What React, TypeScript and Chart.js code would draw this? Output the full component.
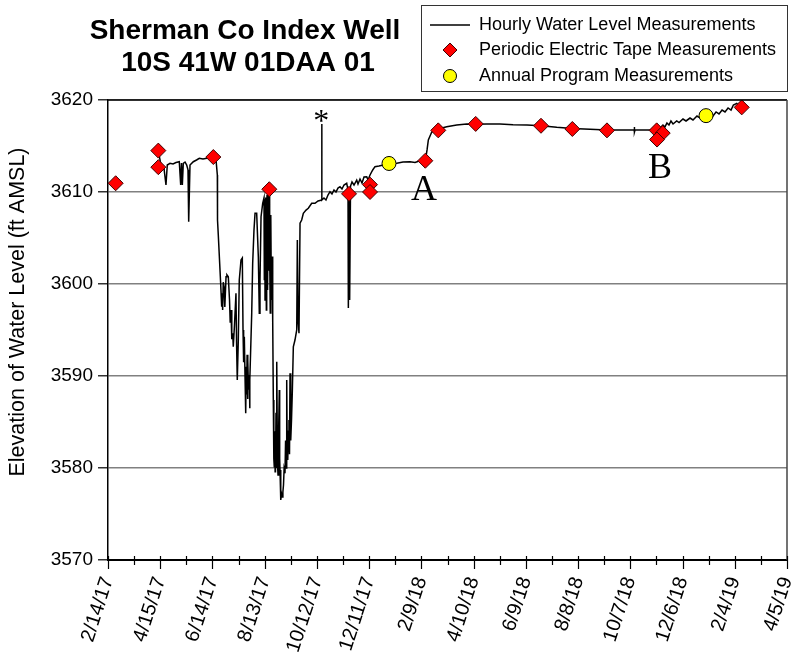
import React, { useEffect, useRef } from 'react';
import { Chart, registerables } from 'chart.js';

Chart.register(...registerables);

// ---------- data ----------
// x values are days since 2/14/17
const xTickLabels = ['2/14/17', '4/15/17', '6/14/17', '8/13/17', '10/12/17', '12/11/17', '2/9/18', '4/10/18', '6/9/18', '8/8/18', '10/7/18', '12/6/18', '2/4/19', '4/5/19'];
const X_MIN = 0;
const X_MAX = 780;
const MINOR_STEP = 30;
const MAJOR_STEP = 60;
const Y_MIN = 3570;
const Y_MAX = 3620;
const Y_STEP = 10;

const titleLines = ['Sherman Co Index Well', '10S 41W 01DAA 01'];
const yAxisTitle = 'Elevation of Water Level (ft AMSL)';
const legendLabels = ['Hourly Water Level Measurements', 'Periodic Electric Tape Measurements', 'Annual Program Measurements'];

// hourly transducer record, [day, elevation]
const spring2017: [number, number][] = [
  [57.8, 3614.46], [60.5, 3613.12], [64.3, 3612.58], [66.6, 3610.76], [68.1, 3612.93], [71.2, 3613.12],
  [74.7, 3613.04], [78.1, 3613.2], [81.9, 3613.29], [83.5, 3610.76], [84.4, 3613.15], [85.4, 3610.76],
  [86.5, 3613.12], [88.5, 3613.26], [90.4, 3612.93], [91.9, 3612.4], [92.7, 3606.77], [94.2, 3612.93],
  [98.0, 3613.29], [101.7, 3613.48], [104.9, 3613.66], [109.1, 3613.59], [113.4, 3613.66], [117.2, 3613.84],
  [121.0, 3613.84], [124.1, 3613.48],
];
const drawdown2017: [number, number][] = [
  [125.6, 3611.85], [125.8, 3606.96], [126.7, 3605.33], [128.1, 3602.61], [129.5, 3599.89], [130.6, 3597.53],
  [131.2, 3599.0], [131.7, 3597.17], [132.4, 3600.2], [133.3, 3599.71], [134.2, 3597.5], [135.6, 3600.79],
  [136.6, 3601.0], [138.2, 3600.79], [139.6, 3598.26], [140.4, 3595.8], [141.3, 3597.17], [142.2, 3594.0],
  [143.3, 3594.64], [143.9, 3593.18], [145.3, 3595.54], [147.0, 3598.99], [147.7, 3593.5], [148.5, 3589.56],
  [149.7, 3593.91], [150.8, 3600.43], [152.8, 3602.61], [154.3, 3602.83], [155.1, 3594.99], [155.8, 3591.5],
  [156.6, 3594.27], [157.4, 3590.0], [158.2, 3585.94], [158.8, 3591.0], [159.3, 3588.0], [159.8, 3592.3],
  [160.3, 3587.5], [160.8, 3591.7], [161.4, 3588.5], [162.3, 3590.11], [162.7, 3586.5], [163.1, 3589.56],
  [165.1, 3596.81], [166.2, 3602.25], [167.7, 3605.87], [168.9, 3607.68], [170.8, 3607.68], [172.7, 3602.97],
  [173.8, 3596.81], [174.6, 3600.43], [175.8, 3607.31], [177.7, 3608.77], [179.2, 3609.35], [179.6, 3600.5],
  [180.0, 3609.2], [180.4, 3598.26], [180.8, 3609.0], [181.2, 3603.0], [181.5, 3609.4], [181.9, 3597.17],
  [182.3, 3608.5], [182.7, 3609.67], [183.1, 3601.0], [183.5, 3599.35], [183.9, 3609.8], [184.2, 3610.0],
  [184.6, 3604.0], [185.0, 3601.52], [185.5, 3610.22], [185.9, 3603.5], [186.4, 3596.85], [186.8, 3605.0],
  [187.2, 3607.5], [187.6, 3599.5], [188.1, 3598.26], [188.6, 3603.0], [189.2, 3596.09], [189.9, 3587.39],
  [190.5, 3581.0], [191.0, 3580.14], [191.6, 3584.0], [192.0, 3579.6], [192.4, 3579.78], [193.0, 3586.0],
  [193.6, 3580.0], [194.1, 3591.55], [194.7, 3580.5], [195.3, 3579.24], [196.0, 3584.0], [196.8, 3588.48],
  [197.2, 3581.0], [197.6, 3579.78], [198.2, 3577.5], [198.7, 3576.52], [199.4, 3577.2], [200.2, 3576.85],
  [200.9, 3577.4], [201.6, 3578.15], [202.3, 3579.9], [203.3, 3579.42], [204.0, 3583.0], [204.6, 3580.0],
  [205.3, 3589.56], [205.9, 3581.5], [206.5, 3580.87], [207.2, 3584.0], [207.9, 3585.22], [208.5, 3581.5],
  [209.1, 3590.29], [209.9, 3583.0], [210.8, 3585.22], [211.8, 3588.5], [212.9, 3593.18], [214.8, 3593.91],
  [216.8, 3595.0], [217.5, 3604.78], [218.3, 3596.09], [219.4, 3594.64],
];
const recovery2017: [number, number][] = [
  [220.6, 3606.6], [222.5, 3606.96], [224.4, 3607.68], [227.5, 3608.04], [230.1, 3608.23], [234.0, 3608.77],
  [237.8, 3608.77], [241.3, 3609.02], [245.5, 3609.13], [245.6, 3617.39], [245.7, 3609.13], [248.1, 3609.35],
  [250.4, 3609.13], [252.7, 3609.67], [255.0, 3610.03], [257.3, 3609.78], [259.6, 3610.22], [261.9, 3610.0],
  [264.2, 3610.43], [266.5, 3610.58], [268.8, 3610.33], [271.1, 3610.76], [274.2, 3610.95], [275.7, 3610.22],
  [276.1, 3597.39], [276.9, 3609.67], [277.6, 3598.26], [278.6, 3610.65], [280.3, 3611.09], [282.6, 3610.76],
  [285.7, 3611.3], [287.2, 3610.87], [289.5, 3611.41], [291.8, 3610.98], [294.1, 3611.63], [297.2, 3611.66],
  [298.7, 3611.3], [301.0, 3611.85], [304.1, 3612.39], [306.7, 3612.75], [311.3, 3612.83], [316.3, 3612.93],
  [322.8, 3613.04], [331.7, 3613.12], [338.9, 3613.26], [346.9, 3613.29], [352.7, 3613.21], [358.4, 3613.4],
  [364.5, 3613.37],
];
const plateau2018: [number, number][] = [
  [366.5, 3614.57], [368.0, 3615.65], [371.9, 3616.52], [377.6, 3616.74], [383.7, 3616.96], [389.1, 3617.1],
  [400.6, 3617.28], [412.1, 3617.39], [422.4, 3617.36], [435.0, 3617.39], [450.3, 3617.39], [465.3, 3617.31],
  [481.3, 3617.28], [497.4, 3617.2], [515.5, 3617.03], [533.4, 3616.9], [553.7, 3616.81], [573.2, 3616.74],
  [592.0, 3616.74], [604.3, 3616.77], [604.6, 3617.07], [604.9, 3616.52], [605.4, 3616.74], [616.9, 3616.74],
  [630.3, 3616.74],
];
const rise2018: [number, number][] = [
  [634.1, 3616.96], [637.5, 3617.28], [639.8, 3617.07], [642.1, 3617.5], [644.4, 3617.28], [646.7, 3617.72],
  [649.1, 3617.39], [653.3, 3617.72], [656.0, 3617.55], [660.5, 3617.93], [664.0, 3617.72], [668.6, 3618.04],
  [672.0, 3617.83], [676.6, 3618.26], [680.1, 3618.04], [687.0, 3618.26], [691.6, 3618.48], [695.0, 3618.26],
  [698.5, 3618.7], [701.9, 3618.48], [705.4, 3618.91], [708.8, 3618.7], [712.3, 3619.13], [715.7, 3618.91],
  [718.4, 3619.46], [722.3, 3619.64], [724.9, 3619.35], [728.0, 3619.16],
];

// periodic electric tape measurements, [day, elevation]
const tapeReadings: [number, number][] = [
  [8.8, 3610.95], [57.8, 3614.5], [57.8, 3612.7], [121.0, 3613.8], [185.3, 3610.3], [276.9, 3609.8],
  [301.0, 3610.8], [301.0, 3610.0], [364.5, 3613.4], [379.4, 3616.7], [422.4, 3617.4], [497.4, 3617.2],
  [533.4, 3616.85], [573.2, 3616.7], [630.3, 3616.7], [637.2, 3616.4], [630.7, 3615.7], [728.0, 3619.2],
];
// annual program measurements, [day, elevation]
const annualReadings: [number, number][] = [
  [322.8, 3613.1], [687.0, 3618.3],
];

// text annotations, [label, day, elevation at baseline]
const annotations: [string, number, number][] = [
  ['*', 244.9, 3616.6],
  ['A', 363.0, 3609.13],
  ['B', 634.1, 3611.52],
];

const SANS = "'Liberation Sans', Arial, Helvetica, sans-serif";
const SERIF = "'Liberation Serif', 'Times New Roman', serif";

const toXY = (rows: [number, number][]) => rows.map(([x, y]) => ({ x, y }));

const overlayPlugin = {
  id: 'overlay',
  afterDraw(chart: any) {
    const { ctx, chartArea, scales } = chart;
    const xs = scales.x;
    const ys = scales.y;
    ctx.save();

    // frame top and right
    ctx.lineWidth = 1.5;
    ctx.strokeStyle = '#000';
    ctx.beginPath();
    ctx.moveTo(chartArea.left, chartArea.top);
    ctx.lineTo(chartArea.right, chartArea.top);
    ctx.stroke();
    ctx.strokeStyle = '#444';
    ctx.beginPath();
    ctx.moveTo(chartArea.right, chartArea.top);
    ctx.lineTo(chartArea.right, chartArea.bottom);
    ctx.stroke();

    // x tick marks (major / minor)
    ctx.strokeStyle = '#000';
    ctx.lineWidth = 1.2;
    for (let d = X_MIN; d <= X_MAX; d += MINOR_STEP) {
      const px = Math.round(xs.getPixelForValue(d)) + 0.5;
      const major = d % MAJOR_STEP === 0;
      ctx.beginPath();
      ctx.moveTo(px, chartArea.bottom - 4);
      ctx.lineTo(px, chartArea.bottom + (major ? 9 : 5));
      ctx.stroke();
    }

    // y axis title
    ctx.save();
    ctx.translate(18, 312);
    ctx.rotate(-Math.PI / 2);
    ctx.fillStyle = '#000';
    ctx.font = `21.5px ${SANS}`;
    ctx.textAlign = 'center';
    ctx.textBaseline = 'middle';
    ctx.fillText(yAxisTitle, 0, 0);
    ctx.restore();

    // title
    ctx.fillStyle = '#000';
    ctx.textAlign = 'center';
    ctx.textBaseline = 'alphabetic';
    ctx.font = `bold 28px ${SANS}`;
    ctx.fillText(titleLines[0], 245, 39);
    ctx.fillText(titleLines[1], 248, 71);

    // legend box
    ctx.strokeStyle = '#333';
    ctx.lineWidth = 1;
    ctx.strokeRect(421.5, 5.5, 366, 86);
    const rowsY = [25, 50, 76];
    ctx.strokeStyle = '#000';
    ctx.lineWidth = 1.3;
    ctx.beginPath();
    ctx.moveTo(430, rowsY[0]);
    ctx.lineTo(470, rowsY[0]);
    ctx.stroke();
    // diamond
    ctx.fillStyle = '#ff0000';
    ctx.strokeStyle = '#400000';
    ctx.lineWidth = 1;
    ctx.beginPath();
    ctx.moveTo(450, rowsY[1] - 7);
    ctx.lineTo(457, rowsY[1]);
    ctx.lineTo(450, rowsY[1] + 7);
    ctx.lineTo(443, rowsY[1]);
    ctx.closePath();
    ctx.fill();
    ctx.stroke();
    // circle
    ctx.fillStyle = '#ffff00';
    ctx.strokeStyle = '#000';
    ctx.beginPath();
    ctx.arc(450, rowsY[2], 6.5, 0, Math.PI * 2);
    ctx.fill();
    ctx.stroke();
    ctx.fillStyle = '#000';
    ctx.font = `18px ${SANS}`;
    ctx.textAlign = 'left';
    ctx.textBaseline = 'middle';
    legendLabels.forEach((t, i) => ctx.fillText(t, 479, rowsY[i]));

    // annotations
    ctx.textAlign = 'center';
    ctx.textBaseline = 'alphabetic';
    annotations.forEach(([t, d, v]) => {
      ctx.font = t === '*' ? `32px ${SERIF}` : `36px ${SERIF}`;
      ctx.fillText(t, xs.getPixelForValue(d), ys.getPixelForValue(v));
    });

    ctx.restore();
  },
};

export default function App() {
  const ref = useRef<HTMLCanvasElement | null>(null);

  useEffect(() => {
    if (!ref.current) return;
    const hourly = [...spring2017, ...drawdown2017, ...recovery2017, ...plateau2018, ...rise2018];
    const chart = new Chart(ref.current, {
      type: 'scatter',
      data: {
        datasets: [
          {
            label: legendLabels[2],
            data: toXY(annualReadings),
            pointStyle: 'circle',
            pointRadius: 7,
            backgroundColor: '#ffff00',
            borderColor: '#000',
            borderWidth: 1,
            order: 0,
          },
          {
            label: legendLabels[1],
            data: toXY(tapeReadings),
            pointStyle: 'rectRot',
            pointRadius: 7.5,
            backgroundColor: '#ff0000',
            borderColor: '#400000',
            borderWidth: 1,
            order: 1,
          },
          {
            label: legendLabels[0],
            data: toXY(hourly),
            showLine: true,
            pointRadius: 0,
            borderColor: '#000',
            borderWidth: 1.5,
            tension: 0,
            order: 2,
          } as any,
        ],
      },
      options: {
        animation: false,
        responsive: false,
        maintainAspectRatio: false,
        devicePixelRatio: 1,
        layout: { padding: { top: 100, right: 12, left: 0, bottom: 0 } },
        plugins: { legend: { display: false }, tooltip: { enabled: false }, title: { display: false } },
        scales: {
          x: {
            type: 'linear',
            min: X_MIN,
            max: X_MAX,
            afterFit: (s: any) => { s.height = 96; s.paddingLeft = 0; s.paddingRight = 0; },
            afterBuildTicks: (s: any) => {
              const t = [];
              for (let d = X_MIN; d <= X_MAX; d += MINOR_STEP) t.push({ value: d });
              s.ticks = t;
            },
            grid: { display: true, drawOnChartArea: false, drawTicks: false },
            border: { display: true, color: '#000', width: 2 },
            ticks: {
              autoSkip: false,
              minRotation: 72,
              maxRotation: 72,
              padding: 14,
              color: '#000',
              font: { family: SANS, size: 20 },
              callback: (v: any) => (Number(v) % MAJOR_STEP === 0 ? xTickLabels[Number(v) / MAJOR_STEP] : ''),
            },
          },
          y: {
            type: 'linear',
            min: Y_MIN,
            max: Y_MAX,
            afterFit: (s: any) => { s.width = 108; },
            grid: { color: '#808080', lineWidth: 1.5, tickColor: '#333', tickLength: 10, drawTicks: true },
            border: { display: true, color: '#000', width: 1.5 },
            ticks: {
              stepSize: Y_STEP,
              padding: 5,
              color: '#000',
              font: { family: SANS, size: 19 },
              callback: (v: any) => String(v),
            },
            title: { display: false },
          },
        },
      },
      plugins: [overlayPlugin],
    });
    return () => chart.destroy();
  }, []);

  return (
    <div style={{ position: 'absolute', left: 0, top: 0, width: 799, height: 656, background: '#fff' }}>
      <canvas ref={ref} width={799} height={656} style={{ display: 'block', width: 799, height: 656 }} />
    </div>
  );
}
